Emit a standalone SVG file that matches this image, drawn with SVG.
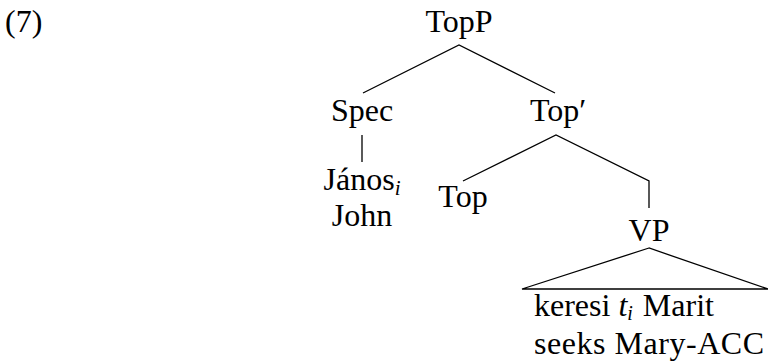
<svg xmlns="http://www.w3.org/2000/svg" width="768" height="364" viewBox="0 0 768 364">
<style>
text{font-family:'Liberation Serif','Times New Roman',serif;font-size:32px;fill:#000}
.m{text-anchor:middle}
.sub{font-size:21px;font-style:italic}
.sub2{font-size:20px;font-style:italic}
.it{font-style:italic}
line,polyline,polygon{stroke:#000;stroke-width:1.3;fill:none}
</style>
<rect width="768" height="364" fill="#fff"/>
<text x="5" y="32">(7)</text>
<g id="connectors">
<polyline points="363,93 459,45 555,93"/>
<line x1="362" y1="135" x2="362" y2="162"/>
<polyline points="463,181 556,135 649,181 649,208"/>
<polygon points="649,248 522,289 768,289"/>
</g>
<g id="TopP"><text class="m" x="459" y="32">TopP</text></g>
<g id="Spec"><text class="m" x="362" y="121">Spec</text></g>
<g id="TopBar"><text x="530" y="121">Top′</text></g>
<g id="Janos"><text class="m" x="362" y="190">János<tspan class="sub" dy="5">i</tspan></text><text class="m" x="362" y="226">John</text></g>
<g id="Top"><text class="m" x="463" y="207">Top</text></g>
<g id="VP"><text class="m" x="649" y="241">VP</text></g>
<g id="VPcontent"><text x="534" y="316">keresi <tspan class="it">t</tspan><tspan class="sub2" dy="4">i</tspan><tspan dx="10" dy="-4">Marit</tspan></text><text x="534" y="354" textLength="230">seeks Mary-ACC</text></g>
</svg>
